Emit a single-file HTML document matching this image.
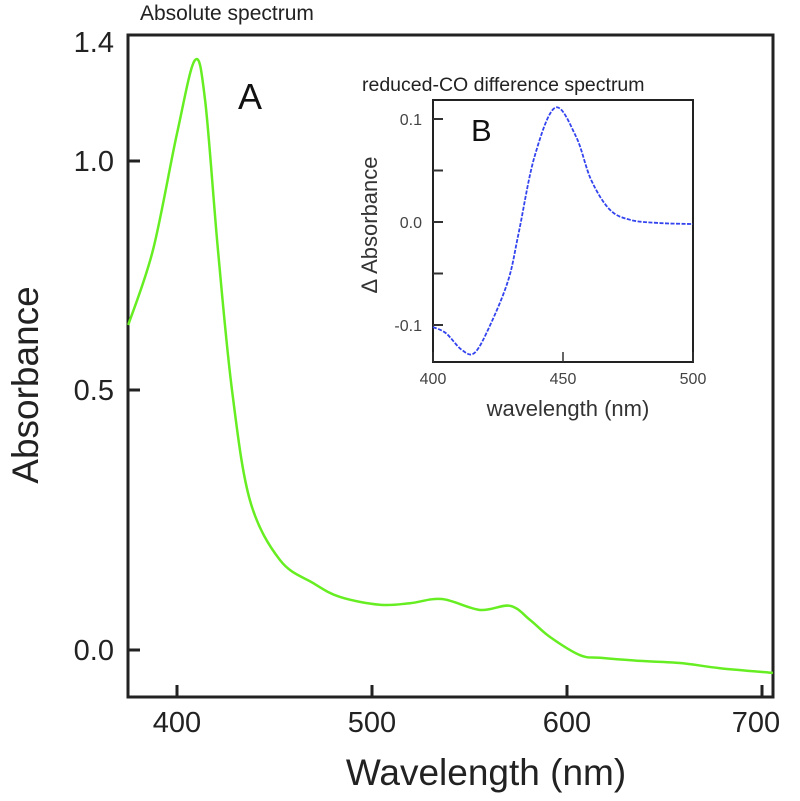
<!DOCTYPE html>
<html><head><meta charset="utf-8"><style>
body{margin:0;background:#fff;}
svg{display:block;font-family:"Liberation Sans",sans-serif;}
</style></head><body>
<svg id="c" width="800" height="801"></svg>
<script>
// Main absolute spectrum data
const mainWavelengths=[375,387.7,400,409.2,414.4,421,428.2,437.4,452.8,469.7,483.6,504.1,519.5,535.9,555.4,570.8,581,591.3,606.7,617,637.4,658,678.5,705.6];
const mainAbsorbance=[0.642,0.806,1.06,1.22,1.133,0.806,0.5,0.288,0.173,0.129,0.102,0.087,0.09,0.098,0.077,0.085,0.058,0.025,-0.01,-0.015,-0.021,-0.025,-0.035,-0.044];
const mainXTicks=[400,500,600,700];
const mainYTicks=[0.0,0.5,1.0];
const mainYTickLabels=["0.0","0.5","1.0"];
// Inset difference spectrum data
const insetWavelengths=[400,405,411,416,422,429,433,439,447,455,460.8,468,476,487,500];
const insetDelta=[-0.102,-0.108,-0.124,-0.127,-0.1,-0.056,-0.01,0.063,0.111,0.083,0.041,0.012,0.002,-0.001,-0.002];
const insetXTicks=[400,450,500];
const insetYTicks=[-0.1,0.0,0.1];
const insetYTickLabels=["-0.1","0.0","0.1"];
const insetMinorYTicks=[-0.05,0.05];

const NS="http://www.w3.org/2000/svg";
const svg=document.getElementById('c');
function mk(tag,attrs,parent,text){const e=document.createElementNS(NS,tag);for(const k in attrs)e.setAttribute(k,attrs[k]);if(text!==undefined)e.textContent=text;(parent||svg).appendChild(e);return e;}

const mx=v=>177+(v-400)*1.95;
function my(v){if(v<=0.5)return 650-(v)*520;if(v<=1.0)return 390-(v-0.5)*458;return 161-(v-1)*458;}
const L=128,R=773,T=35,B=697;

let e;
e=mk('rect',{x:L,y:T,width:R-L,height:B-T,fill:'none',stroke:'#222','stroke-width':3});


mainXTicks.forEach(t=>{
  e=mk('line',{x1:mx(t),x2:mx(t),y1:B,y2:B-12,stroke:'#222','stroke-width':3});
  
  
  e=mk('text',{x:mx(t)-(t===700?6:0),y:B+35,'font-size':29,'text-anchor':'middle',fill:'#222'},svg,String(t));
  
  
});
mainYTicks.forEach((t,i)=>{
  e=mk('line',{x1:L,x2:L+12,y1:my(t),y2:my(t),stroke:'#222','stroke-width':3});
  
  
  e=mk('text',{x:114,y:my(t)+10,'font-size':29,'text-anchor':'end',fill:'#222'},svg,mainYTickLabels[i]);
  
  
});
e=mk('text',{x:114,y:52,'font-size':29,'text-anchor':'end',fill:'#222'},svg,'1.4');



function smoothPath(pts){let d='M'+pts[0][0]+','+pts[0][1];for(let i=0;i<pts.length-1;i++){const p0=pts[Math.max(0,i-1)],p1=pts[i],p2=pts[i+1],p3=pts[Math.min(pts.length-1,i+2)];const c1x=p1[0]+(p2[0]-p0[0])/6,c1y=p1[1]+(p2[1]-p0[1])/6,c2x=p2[0]-(p3[0]-p1[0])/6,c2y=p2[1]-(p3[1]-p1[1])/6;d+=` C${c1x},${c1y} ${c2x},${c2y} ${p2[0]},${p2[1]}`;}return d;}

e=mk('path',{d:smoothPath(mainWavelengths.map((w,i)=>[mx(w),my(mainAbsorbance[i])])),fill:'none',stroke:'#66ee22','stroke-width':2.5});



e=mk('text',{x:140,y:20,'font-size':21,fill:'#222'},svg,'Absolute spectrum');


e=mk('text',{x:238,y:109,'font-size':36,fill:'#111'},svg,'A');


e=mk('text',{x:486,y:785,'font-size':37,'text-anchor':'middle',fill:'#222'},svg,'Wavelength (nm)');


e=mk('text',{x:0,y:0,'font-size':37,'text-anchor':'middle',fill:'#222',transform:'translate(38,385) rotate(-90)'},svg,'Absorbance');



const iL=433,iR=693,iT=100,iB=362;
const ix=v=>433+(v-400)*2.6;
const iy=v=>222-v*1030;
e=mk('rect',{x:iL,y:iT,width:iR-iL,height:iB-iT,fill:'#fff',stroke:'#222','stroke-width':2});


insetXTicks.forEach(t=>{
  e=mk('line',{x1:ix(t),x2:ix(t),y1:iB,y2:iB-10,stroke:'#333','stroke-width':1.5});
  
  
  e=mk('text',{x:ix(t),y:iB+22,'font-size':16,'text-anchor':'middle',fill:'#444'},svg,String(t));
  
  
});
insetYTicks.forEach((t,i)=>{
  e=mk('line',{x1:iL,x2:iL+10,y1:iy(t),y2:iy(t),stroke:'#333','stroke-width':2});
  
  
  e=mk('text',{x:422,y:iy(t)+6,'font-size':16,'text-anchor':'end',fill:'#444'},svg,insetYTickLabels[i]);
  
  
});
insetMinorYTicks.forEach(t=>{
  e=mk('line',{x1:iL,x2:iL+10,y1:iy(t),y2:iy(t),stroke:'#333','stroke-width':2});
  
  
});
e=mk('path',{d:smoothPath(insetWavelengths.map((w,i)=>[ix(w),iy(insetDelta[i])])),fill:'none',stroke:'#3344ee','stroke-width':1.8,'stroke-dasharray':'4,1.5'});


e=mk('text',{x:362,y:91,'font-size':19.5,fill:'#222'},svg,'reduced-CO difference spectrum');


e=mk('text',{x:471,y:141,'font-size':31,fill:'#111'},svg,'B');


e=mk('text',{x:568,y:416,'font-size':22,'text-anchor':'middle',fill:'#333'},svg,'wavelength (nm)');


e=mk('text',{x:0,y:0,'font-size':22,'text-anchor':'middle',fill:'#333',transform:'translate(377,225) rotate(-90)'},svg,'Δ Absorbance');


</script>
</body></html>
